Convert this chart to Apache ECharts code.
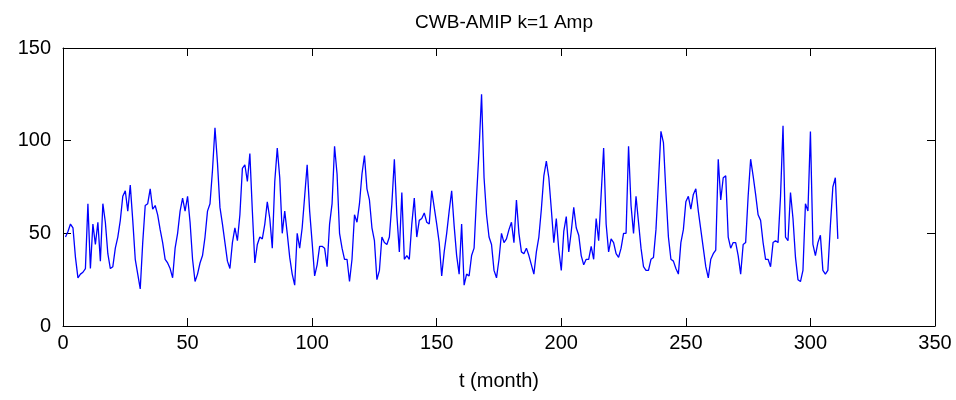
<!DOCTYPE html>
<html>
<head>
<meta charset="utf-8">
<script src="https://cdn.jsdelivr.net/npm/echarts@6/dist/echarts.min.js"></script>
<style>html,body{margin:0;padding:0;background:#fff;}#c{width:956px;height:400px;}</style>
</head>
<body>
<div id="c"></div>
<script>
var titleText = 'CWB-AMIP k=1 Amp';
var xName = 't (month)';
var xTicks = [0, 50, 100, 150, 200, 250, 300, 350];
var yTicks = [0, 50, 100, 150];
var amp = [
48,51,55,53,37,26,28,29,31,66,31,55,44,56,35,66,56,39,31,32,
42,48,57,70,73,62,76,57,36,28,20,45,65,66,74,63,65,60,52,45,
36,34,31,26,42,50,62,69,62,70,56,36,24,28,34,38,48,62,66,84,
107,88,64,55,45,35,31,45,53,46,60,85,87,78,93,62,34,44,48,47,
55,67,58,42,78,96,80,50,62,50,37,28,22,50,42,53,70,87,62,45,
27,33,43,43,42,32,55,66,97,82,50,42,36,36,24,36,60,56,66,82,
92,74,68,53,46,25,30,48,45,44,48,66,90,60,40,72,36,38,36,55,
69,48,57,58,61,56,55,73,64,55,45,27,40,50,62,73,54,38,28,55,
22,28,27,38,42,70,95,125,80,60,48,44,30,26,36,50,45,47,52,56,
45,68,50,40,39,42,38,33,28,40,48,63,81,89,80,63,45,58,41,30,
51,59,40,51,64,53,49,38,33,36,36,43,36,58,46,71,96,55,40,47,
45,39,37,42,50,50,97,65,50,70,56,42,32,30,30,36,37,52,78,105,
99,72,48,36,35,31,28,45,52,67,70,63,71,74,62,52,42,32,26,36,
39,41,90,68,80,81,48,42,45,45,38,28,44,45,70,90,81,71,60,57,
45,36,36,32,45,46,45,70,108,48,46,72,58,37,25,24,30,66,62,105,
44,38,45,49,30,28,30,54,75,80,47
];
var months = amp.map(function (v, i) { return i + 1; });

var chart = echarts.init(document.getElementById('c'), null, {renderer: 'canvas'});
var font = 'Liberation Sans';
var axisLine = {show: true, onZero: false, lineStyle: {color: '#000', width: 1}};
var tick = {show: true, inside: true, length: 8, lineStyle: {color: '#000', width: 1}};
chart.setOption({
  animation: false,
  backgroundColor: '#fff',
  title: {
    text: titleText, left: 499, top: 8, textAlign: 'center',
    textStyle: {fontFamily: font, fontSize: 19, fontWeight: 'normal', color: '#000'}
  },
  grid: {left: 63, right: 21, top: 48, bottom: 74, containLabel: false},
  xAxis: [{
    type: 'value', min: xTicks[0], max: xTicks[xTicks.length - 1], interval: 50,
    position: 'bottom',
    name: xName, nameLocation: 'middle', nameGap: 45,
    nameTextStyle: {fontFamily: font, fontSize: 20, color: '#000'},
    axisLine: axisLine, axisTick: tick, splitLine: {show: false},
    axisLabel: {fontFamily: font, fontSize: 20, color: '#000', margin: 7}
  }, {
    type: 'value', min: xTicks[0], max: xTicks[xTicks.length - 1], interval: 50,
    position: 'top', axisLine: axisLine, axisTick: tick, splitLine: {show: false},
    axisLabel: {show: false}
  }],
  yAxis: [{
    type: 'value', min: yTicks[0], max: yTicks[yTicks.length - 1], interval: 50,
    position: 'left',
    axisLine: axisLine, axisTick: tick, splitLine: {show: false},
    axisLabel: {fontFamily: font, fontSize: 20, color: '#000', margin: 12}
  }, {
    type: 'value', min: yTicks[0], max: yTicks[yTicks.length - 1], interval: 50,
    position: 'right', axisLine: axisLine, axisTick: tick, splitLine: {show: false},
    axisLabel: {show: false}
  }],
  series: [{
    type: 'line',
    data: months.map(function (m, i) { return [m, amp[i]]; }),
    showSymbol: false, symbol: 'none',
    lineStyle: {color: '#0000ff', width: 1.3},
    xAxisIndex: 0, yAxisIndex: 0
  }]
});
</script>
</body>
</html>
